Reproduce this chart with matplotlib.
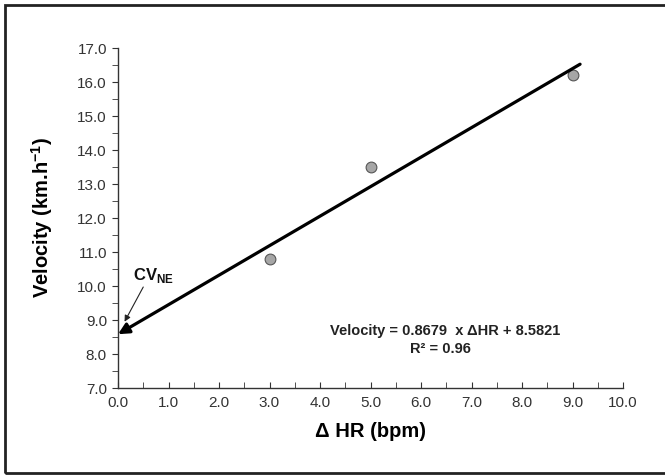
import matplotlib
matplotlib.use("Agg")
import matplotlib.pyplot as plt
from matplotlib.ticker import MultipleLocator, FormatStrFormatter
from matplotlib.patches import Rectangle

plt.rcParams['font.family'] = ['Liberation Sans', 'DejaVu Sans']
plt.rcParams['mathtext.fontset'] = 'custom'
plt.rcParams['mathtext.rm'] = 'Liberation Sans:bold'
plt.rcParams['mathtext.bf'] = 'Liberation Sans:bold'

# measured points
delta_hr = [3.0, 5.0, 9.0]
velocity = [10.8, 13.5, 16.2]

# regression shown on the chart
slope = 0.8679
intercept = 8.5821
line_x = [0.0, 9.15]

# CV_NE pointer (text anchor, arrow tip)
cv_text = (0.5, 9.97)
cv_tip = (0.13, 8.95)

fig = plt.figure(figsize=(6.65, 4.75), dpi=100)
ax = fig.add_axes([118/665, 1 - 388/475, (623 - 118)/665, (388 - 48)/475])

# outer frame
fig.patches.append(Rectangle((5/665, 2/475), 1.2, 1 - 7/475, transform=fig.transFigure,
                             fill=False, edgecolor='#222222', linewidth=2))

ax.scatter(delta_hr, velocity, s=60, facecolor='#a6a6a6', edgecolor='#555555',
           linewidth=0.8, zorder=3)

y0 = slope * line_x[0] + intercept
y1 = slope * line_x[1] + intercept
ax.annotate('', xy=(line_x[0], y0), xytext=(line_x[1], y1),
            arrowprops=dict(arrowstyle='-|>', color='black', lw=2.3,
                            mutation_scale=16, shrinkA=0, shrinkB=0),
            annotation_clip=False, zorder=4)

ax.annotate('', xy=cv_tip, xytext=cv_text,
            arrowprops=dict(arrowstyle='-|>', color='#222222', lw=0.8,
                            mutation_scale=9, shrinkA=0, shrinkB=0),
            annotation_clip=False)
ax.text(0.7, 10.32, r'CV$_{\mathrm{NE}}$', fontsize=12, fontweight='bold',
        ha='center', va='center', color='#111111')

ax.text(6.48, 8.68, 'Velocity = 0.8679  x \u0394HR + 8.5821', fontsize=10.5,
        fontweight='bold', ha='center', va='center', color='#222222')
ax.text(6.38, 8.15, 'R\u00b2 = 0.96', fontsize=10.5, fontweight='bold',
        ha='center', va='center', color='#222222')

ax.set_xlim(0, 10)
ax.set_ylim(7, 17)
ax.xaxis.set_major_locator(MultipleLocator(1))
ax.xaxis.set_minor_locator(MultipleLocator(0.5))
ax.yaxis.set_major_locator(MultipleLocator(1))
ax.yaxis.set_minor_locator(MultipleLocator(0.5))
ax.xaxis.set_major_formatter(FormatStrFormatter('%.1f'))
ax.yaxis.set_major_formatter(FormatStrFormatter('%.1f'))

for s in ['top', 'right']:
    ax.spines[s].set_visible(False)
for s in ['left', 'bottom']:
    ax.spines[s].set_color('#333333')
    ax.spines[s].set_linewidth(1.0)

ax.tick_params(axis='x', which='both', direction='in', length=4, color='#333333',
               labelsize=11, labelcolor='#333333', pad=6)
ax.tick_params(axis='y', which='both', direction='out', length=4, color='#333333',
               labelsize=11, labelcolor='#333333', pad=4)

ax.set_xlabel('\u0394 HR (bpm)', fontsize=14.5, fontweight='bold')
ax.set_ylabel(r'Velocity (km.h$^{\mathbf{-1}}$)', fontsize=14.5, fontweight='bold')
ax.xaxis.set_label_coords(0.5, -34/340)
ax.yaxis.set_label_coords(-63/505, 0.5)

fig.savefig('out.png', dpi=100)
